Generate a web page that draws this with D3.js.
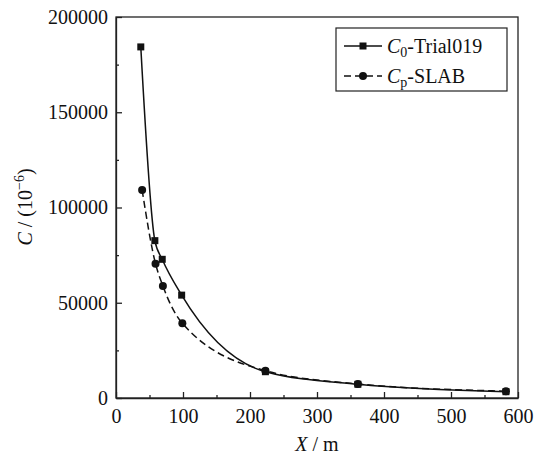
<!DOCTYPE html>
<html>
<head>
<meta charset="utf-8">
<script src="https://d3js.org/d3.v7.min.js"></script>
<style>
  body { margin: 0; background: #fff; }
  text { font-family: "Liberation Serif", "Times New Roman", serif; fill: #111; }
</style>
</head>
<body>
<div id="my_dataviz"></div>
<script>

// data
var xTrial = [37, 58, 69, 98, 223, 361, 582];
var cTrial = [184300, 82600, 72800, 54000, 13800, 7200, 3300];
var xSlab = [39, 59, 70, 99, 223, 361, 582];
var cSlab = [109200, 70500, 58800, 39200, 14300, 7400, 3600];
var xTicks = [0, 100, 200, 300, 400, 500, 600];
var yTicks = [0, 50000, 100000, 150000, 200000];

var margin = {top: 17, right: 16, bottom: 57, left: 116},
    width = 534 - margin.left - margin.right,
    height = 455 - margin.top - margin.bottom;

var svg = d3.select("#my_dataviz")
  .append("svg")
    .attr("width", 534)
    .attr("height", 455)
  .append("g")
    .attr("transform", "translate(" + margin.left + "," + margin.top + ")");

var x = d3.scaleLinear().domain([0, 600]).range([0, width]);
var y = d3.scaleLinear().domain([0, 200000]).range([height, 0]);

// minor ticks first
svg.append("g")
  .attr("transform", "translate(0," + height + ")")
  .call(d3.axisBottom(x).tickValues(d3.range(50, 600, 100)).tickSize(-3).tickFormat(""))
  .call(function(g) { g.select(".domain").remove(); });
svg.append("g")
  .call(d3.axisLeft(y).tickValues(d3.range(25000, 200000, 50000)).tickSize(-3).tickFormat(""))
  .call(function(g) { g.select(".domain").remove(); });

// major axes
svg.append("g")
  .attr("transform", "translate(0," + height + ")")
  .call(d3.axisBottom(x).tickValues(xTicks).tickSize(-6).tickPadding(11).tickSizeOuter(0).tickFormat(d3.format("d")))
  .call(function(g) { g.selectAll("text").style("font-size", "20px").style("font-family", "Liberation Serif").attr("fill", "#111"); });
svg.append("g")
  .call(d3.axisLeft(y).tickValues(yTicks).tickSize(-6).tickPadding(8).tickSizeOuter(0).tickFormat(d3.format("d")))
  .call(function(g) { g.selectAll("text").style("font-size", "20px").style("font-family", "Liberation Serif").attr("fill", "#111"); });

svg.selectAll(".tick line, .domain").attr("stroke", "#222").attr("stroke-width", 1.3);

// frame
svg.append("rect")
  .attr("width", width).attr("height", height)
  .attr("fill", "none").attr("stroke", "#222").attr("stroke-width", 1.3);

var trial = xTrial.map(function(d, i) { return [d, cTrial[i]]; });
var slab = xSlab.map(function(d, i) { return [d, cSlab[i]]; });

var line = d3.line()
  .x(function(d) { return x(d[0]); })
  .y(function(d) { return y(d[1]); })
  .curve(d3.curveMonotoneX);

svg.append("path").datum(trial)
  .attr("d", line).attr("fill", "none").attr("stroke", "#111").attr("stroke-width", 1.5);
svg.append("path").datum(slab)
  .attr("d", line).attr("fill", "none").attr("stroke", "#111").attr("stroke-width", 1.5)
  .attr("stroke-dasharray", "7,4");

svg.selectAll(".sq").data(trial).enter().append("rect")
  .attr("x", function(d) { return x(d[0]) - 3.5; })
  .attr("y", function(d) { return y(d[1]) - 3.5; })
  .attr("width", 7).attr("height", 7).attr("fill", "#111");
svg.selectAll(".dot").data(slab).enter().append("circle")
  .attr("cx", function(d) { return x(d[0]); })
  .attr("cy", function(d) { return y(d[1]); })
  .attr("r", 4).attr("fill", "#111");

// legend
var lg = svg.append("g").attr("transform", "translate(" + (336 - margin.left) + "," + (28 - margin.top) + ")");
lg.append("rect").attr("width", 171).attr("height", 63)
  .attr("fill", "#fff").attr("stroke", "#222").attr("stroke-width", 1.2);
var rows = [
  {sym: "square", dash: null, sub: "0", rest: "-Trial019", y: 18},
  {sym: "circle", dash: "7,4", sub: "p", rest: "-SLAB", y: 48}
];
rows.forEach(function(r) {
  lg.append("line").attr("x1", 8).attr("x2", 46).attr("y1", r.y).attr("y2", r.y)
    .attr("stroke", "#111").attr("stroke-width", 1.5).attr("stroke-dasharray", r.dash);
  if (r.sym === "square") {
    lg.append("rect").attr("x", 27 - 3.5).attr("y", r.y - 3.5).attr("width", 7).attr("height", 7).attr("fill", "#111");
  } else {
    lg.append("circle").attr("cx", 27).attr("cy", r.y).attr("r", 4).attr("fill", "#111");
  }
  var t = lg.append("text").attr("x", 51).attr("y", r.y + 7).style("font-size", "20px");
  t.append("tspan").style("font-style", "italic").text("C");
  t.append("tspan").attr("dy", 4).style("font-size", "14px").text(r.sub);
  t.append("tspan").attr("dy", -4).text(r.rest);
});

// axis titles
var xt = svg.append("text").attr("x", width / 2).attr("y", height + 53)
  .attr("text-anchor", "middle").style("font-size", "20px");
xt.append("tspan").style("font-style", "italic").text("X");
xt.append("tspan").text(" / m");

var yt = svg.append("text")
  .attr("transform", "translate(" + (32 - margin.left) + "," + (207 - margin.top) + ") rotate(-90)")
  .attr("text-anchor", "middle").style("font-size", "20px");
yt.append("tspan").style("font-style", "italic").text("C");
yt.append("tspan").text(" / (10");
yt.append("tspan").attr("dy", -8).style("font-size", "14px").text("\u22126");
yt.append("tspan").attr("dy", 8).text(")");

</script>
</body>
</html>
